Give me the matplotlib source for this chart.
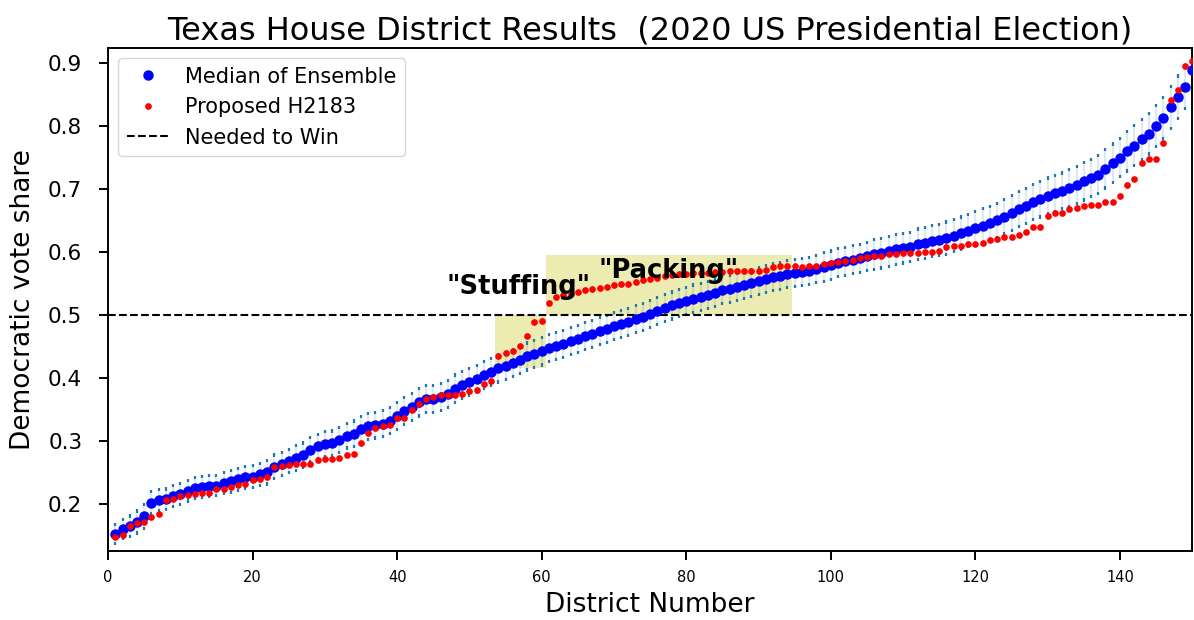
import numpy as np
import matplotlib
matplotlib.use("Agg")
import matplotlib.pyplot as plt

# median of the ensemble, district 1..150 (sorted)
ens_median = [
    0.152, 0.160, 0.164, 0.171, 0.180, 0.202, 0.206, 0.207, 0.212, 0.216,
    0.221, 0.225, 0.227, 0.228, 0.229, 0.233, 0.236, 0.239, 0.242, 0.243,
    0.247, 0.250, 0.259, 0.263, 0.268, 0.273, 0.277, 0.286, 0.291, 0.295,
    0.296, 0.301, 0.308, 0.311, 0.318, 0.323, 0.325, 0.327, 0.332, 0.339,
    0.347, 0.354, 0.361, 0.366, 0.367, 0.370, 0.374, 0.383, 0.389, 0.394,
    0.398, 0.405, 0.409, 0.415, 0.419, 0.423, 0.429, 0.434, 0.438, 0.442,
    0.447, 0.451, 0.454, 0.458, 0.462, 0.466, 0.470, 0.474, 0.478, 0.482,
    0.485, 0.489, 0.493, 0.497, 0.501, 0.506, 0.511, 0.515, 0.519, 0.522,
    0.526, 0.529, 0.532, 0.535, 0.539, 0.541, 0.545, 0.548, 0.551, 0.554,
    0.557, 0.560, 0.562, 0.565, 0.566, 0.568, 0.570, 0.573, 0.576, 0.579,
    0.583, 0.585, 0.588, 0.590, 0.593, 0.596, 0.598, 0.601, 0.604, 0.606,
    0.608, 0.612, 0.614, 0.617, 0.619, 0.622, 0.626, 0.630, 0.634, 0.638,
    0.642, 0.646, 0.650, 0.656, 0.662, 0.668, 0.673, 0.679, 0.684, 0.689,
    0.693, 0.697, 0.702, 0.706, 0.712, 0.718, 0.723, 0.732, 0.741, 0.750,
    0.760, 0.769, 0.779, 0.788, 0.800, 0.813, 0.830, 0.846, 0.862, 0.889,
]

# proposed plan H2183
proposed = [
    0.147, 0.150, 0.165, 0.169, 0.171, 0.179, 0.183, 0.206, 0.207, 0.213,
    0.214, 0.216, 0.217, 0.217, 0.223, 0.223, 0.227, 0.230, 0.232, 0.238,
    0.239, 0.243, 0.258, 0.260, 0.261, 0.263, 0.263, 0.263, 0.270, 0.271,
    0.271, 0.273, 0.278, 0.279, 0.297, 0.312, 0.320, 0.323, 0.325, 0.337,
    0.337, 0.349, 0.359, 0.366, 0.370, 0.372, 0.373, 0.373, 0.375, 0.379,
    0.380, 0.390, 0.395, 0.435, 0.440, 0.443, 0.451, 0.466, 0.489, 0.490,
    0.519, 0.529, 0.532, 0.534, 0.537, 0.540, 0.541, 0.543, 0.545, 0.548,
    0.549, 0.549, 0.552, 0.556, 0.557, 0.559, 0.562, 0.563, 0.565, 0.565,
    0.566, 0.566, 0.567, 0.568, 0.568, 0.569, 0.569, 0.570, 0.570, 0.570,
    0.571, 0.576, 0.577, 0.577, 0.577, 0.576, 0.578, 0.578, 0.581, 0.583,
    0.584, 0.585, 0.588, 0.590, 0.592, 0.593, 0.594, 0.596, 0.597, 0.598,
    0.598, 0.599, 0.600, 0.600, 0.602, 0.608, 0.609, 0.610, 0.612, 0.613,
    0.614, 0.619, 0.620, 0.624, 0.624, 0.627, 0.631, 0.639, 0.640, 0.657,
    0.662, 0.662, 0.669, 0.670, 0.673, 0.674, 0.675, 0.679, 0.679, 0.689,
    0.707, 0.716, 0.742, 0.748, 0.748, 0.773, 0.841, 0.858, 0.895, 0.903,
]

# half-width of the ensemble spread per district
ens_spread = [
    0.018, 0.018, 0.019, 0.020, 0.022, 0.020, 0.019, 0.019, 0.019, 0.019,
    0.019, 0.019, 0.019, 0.019, 0.019, 0.019, 0.020, 0.020, 0.020, 0.020,
    0.020, 0.021, 0.021, 0.021, 0.021, 0.022, 0.022, 0.022, 0.022, 0.022,
    0.022, 0.022, 0.022, 0.023, 0.023, 0.023, 0.023, 0.023, 0.023, 0.024,
    0.024, 0.024, 0.024, 0.024, 0.024, 0.024, 0.024, 0.024, 0.024, 0.024,
    0.024, 0.024, 0.024, 0.024, 0.024, 0.024, 0.024, 0.024, 0.024, 0.024,
    0.024, 0.024, 0.024, 0.024, 0.024, 0.024, 0.024, 0.024, 0.024, 0.024,
    0.024, 0.024, 0.024, 0.024, 0.024, 0.024, 0.024, 0.024, 0.024, 0.024,
    0.024, 0.024, 0.024, 0.024, 0.024, 0.024, 0.024, 0.024, 0.024, 0.024,
    0.024, 0.024, 0.024, 0.024, 0.024, 0.024, 0.024, 0.024, 0.025, 0.025,
    0.025, 0.025, 0.025, 0.025, 0.025, 0.026, 0.026, 0.026, 0.026, 0.026,
    0.026, 0.027, 0.027, 0.027, 0.027, 0.028, 0.028, 0.028, 0.028, 0.029,
    0.029, 0.029, 0.029, 0.030, 0.030, 0.030, 0.030, 0.030, 0.031, 0.031,
    0.031, 0.031, 0.032, 0.032, 0.032, 0.032, 0.033, 0.033, 0.033, 0.033,
    0.034, 0.034, 0.034, 0.035, 0.035, 0.035, 0.036, 0.036, 0.036, 0.036,
]

districts = np.arange(1, len(ens_median) + 1)
med = np.array(ens_median)
spr = np.array(ens_spread)
lo = med - spr
hi = med + spr

fig = plt.figure(figsize=(11.94, 6.2), dpi=100)
ax = fig.add_axes([0.0905, 0.1113, 0.908, 0.8113])

# shaded regions
ax.fill_between([53.5, 60.6], 0.416, 0.5, color='y', alpha=0.3, lw=0, zorder=0)
ax.fill_between([60.6, 94.6], 0.5, 0.595, color='y', alpha=0.3, lw=0, zorder=0)

# ensemble spread: faint body plus end caps
ax.vlines(districts, lo, hi, color='#1f77b4', alpha=0.15, lw=1.6, zorder=1)
ax.vlines(districts, lo, lo + 0.005, color='#1f77b4', lw=1.6, zorder=1)
ax.vlines(districts, hi - 0.005, hi, color='#1f77b4', lw=1.6, zorder=1)

ax.plot(districts, med, 'o', color='blue', ms=6.5, ls='none',
        label='Median of Ensemble', zorder=3)
ax.plot(districts, proposed, 'o', color='red', ms=3.8, ls='none',
        label='Proposed H2183', zorder=4)
ax.axhline(0.5, color='k', ls='--', lw=1.5, label='Needed to Win', zorder=2)

ax.text(56.8, 0.545, '"Stuffing"', fontsize=18.5, fontweight='bold',
        ha='center', va='center', zorder=5)
ax.text(77.6, 0.570, '"Packing"', fontsize=18.5, fontweight='bold',
        ha='center', va='center', zorder=5)

ax.set_xlim(0, 150)
ax.set_ylim(0.125, 0.924)
ax.set_xticks(np.arange(0, 150, 20))
ax.set_yticks(np.arange(0.2, 0.95, 0.1))
for sp in ax.spines.values():
    sp.set_linewidth(1.4)
ax.tick_params(axis='both', length=6.5, width=1.4)
ax.tick_params(axis='x', labelsize=10.5, pad=7)
ax.tick_params(axis='y', labelsize=15.5, pad=12)
ax.set_xlabel('District Number', fontsize=19, labelpad=5)
ax.set_ylabel('Democratic vote share', fontsize=19, labelpad=9)
ax.set_title('Texas House District Results  (2020 US Presidential Election)',
             fontsize=23, pad=6)
ax.legend(loc='upper left', fontsize=15)

fig.savefig('out.png', dpi=100)
